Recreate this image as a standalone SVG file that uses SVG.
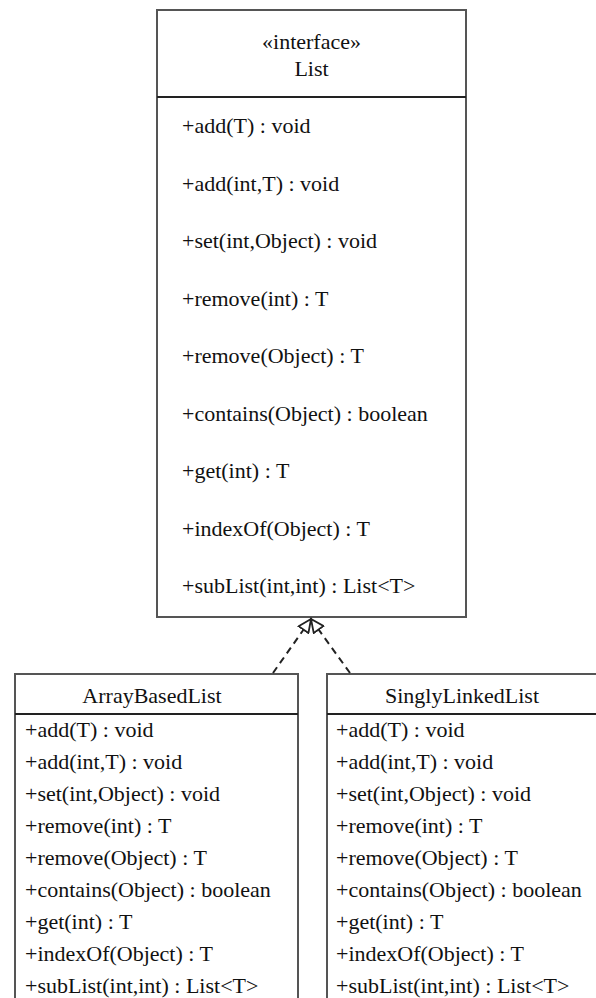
<svg xmlns="http://www.w3.org/2000/svg" width="596" height="998" viewBox="0 0 596 998">
<style>
.box{fill:#fff;stroke:#555;stroke-width:2}
.div{stroke:#222;stroke-width:2}
text{font-family:"Liberation Serif","Times New Roman",serif;font-size:22px;fill:#111}
.c{text-anchor:middle}
.dash{fill:none;stroke:#222;stroke-width:2;stroke-dasharray:7,5}
</style>
<defs>
<marker id="tri" markerWidth="16" markerHeight="14" refX="14" refY="7" orient="auto" markerUnits="userSpaceOnUse">
<path d="M1,1 L14,7 L1,13 Z" fill="#fff" stroke="#222" stroke-width="1.8"/>
</marker>
</defs>
<rect width="596" height="998" fill="#fff"/>
<g id="List">
<rect class="box" x="157" y="10" width="309" height="607"/>
<line class="div" x1="157" y1="97" x2="466" y2="97"/>
<text class="c" x="311.5" y="49">«interface»</text>
<text class="c" x="311.5" y="76">List</text>
<text x="182" y="133">+add(T) : void</text>
<text x="182" y="190.5">+add(int,T) : void</text>
<text x="182" y="248">+set(int,Object) : void</text>
<text x="182" y="305.5">+remove(int) : T</text>
<text x="182" y="363">+remove(Object) : T</text>
<text x="182" y="420.5">+contains(Object) : boolean</text>
<text x="182" y="478">+get(int) : T</text>
<text x="182" y="535.5">+indexOf(Object) : T</text>
<text x="182" y="593">+subList(int,int) : List&lt;T&gt;</text>
</g>
<g id="ArrayBasedList">
<rect class="box" x="15" y="674" width="283" height="340"/>
<line class="div" x1="15" y1="714" x2="298" y2="714"/>
<text class="c" x="152" y="703">ArrayBasedList</text>
<text x="25" y="737">+add(T) : void</text>
<text x="25" y="769">+add(int,T) : void</text>
<text x="25" y="801">+set(int,Object) : void</text>
<text x="25" y="833">+remove(int) : T</text>
<text x="25" y="865">+remove(Object) : T</text>
<text x="25" y="897">+contains(Object) : boolean</text>
<text x="25" y="929">+get(int) : T</text>
<text x="25" y="961">+indexOf(Object) : T</text>
<text x="25" y="993">+subList(int,int) : List&lt;T&gt;</text>
</g>
<g id="SinglyLinkedList">
<rect class="box" x="327" y="674" width="272" height="340"/>
<line class="div" x1="327" y1="714" x2="599" y2="714"/>
<text class="c" x="462" y="703">SinglyLinkedList</text>
<text x="336" y="737">+add(T) : void</text>
<text x="336" y="769">+add(int,T) : void</text>
<text x="336" y="801">+set(int,Object) : void</text>
<text x="336" y="833">+remove(int) : T</text>
<text x="336" y="865">+remove(Object) : T</text>
<text x="336" y="897">+contains(Object) : boolean</text>
<text x="336" y="929">+get(int) : T</text>
<text x="336" y="961">+indexOf(Object) : T</text>
<text x="336" y="993">+subList(int,int) : List&lt;T&gt;</text>
</g>
<g id="connectors">
<line class="dash" x1="273" y1="673" x2="311" y2="619" marker-end="url(#tri)"/>
<line class="dash" x1="350" y1="673" x2="311" y2="619" marker-end="url(#tri)"/>
</g>
</svg>
